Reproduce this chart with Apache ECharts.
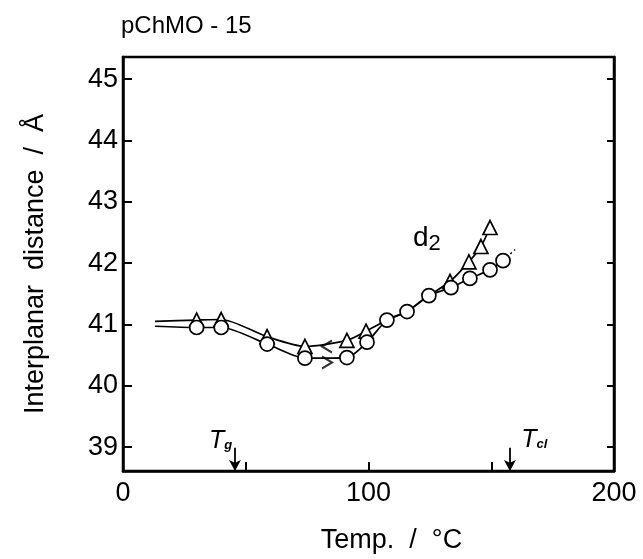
<!DOCTYPE html>
<html><head><meta charset="utf-8">
<script src="https://cdn.jsdelivr.net/npm/echarts@6/dist/echarts.min.js"></script>
<style>html,body{margin:0;padding:0;background:#fff}#c{width:643px;height:559px}</style>
</head><body><div id="c"></div>
<script>
// Heating run (circles)
const heatT = [13, 30, 40, 58.7, 74.1, 91.2, 99.4, 107.5, 115.7, 124.6, 133.6, 141.3, 149.5, 154.8];
const heatD = [40.97, 40.95, 40.95, 40.68, 40.45, 40.46, 40.71, 41.07, 41.21, 41.47, 41.60, 41.75, 41.89, 42.04];
const heatMarked = [false, true, true, true, true, true, true, true, true, true, true, true, true, true];
// dotted extension of heating curve
const extT = [154.8, 159.7];
const extD = [42.04, 42.22];
// Cooling run (triangles)
const coolT = [13, 30, 40, 58.7, 74.1, 91.2, 99.0, 107.5, 115.7, 124.6, 133.2, 140.9, 145.8, 149.5];
const coolD = [41.05, 41.07, 41.08, 40.80, 40.64, 40.74, 40.89, 41.07, 41.21, 41.47, 41.70, 42.02, 42.27, 42.58];
const coolMarked = [false, true, true, true, true, true, true, false, false, false, true, true, true, true];
// direction arrows on the curves
const arrowT = [83.1, 83.1];
const arrowD = [40.64, 40.38];
const arrowDir = ['left', 'right'];
// transition temperatures
const transT = [45.6, 157.6];
const transName = ['g', 'cl'];
const labelT = [39.8, 167.5];
const labelD = [39.10, 39.12];
// axis ticks
const xLabels = [0, 100, 200];
const xTicks = [50, 100, 150];
const yTicks = [39, 40, 41, 42, 43, 44, 45];

const FONT = 'Liberation Sans';
const chart = echarts.init(document.getElementById('c'));

function pts(T, D, marked, sym) {
  return T.map((t, i) => ({ value: [t, D[i]], symbol: marked[i] ? sym : 'none' }));
}
const textPoint = { symbol: 'circle', symbolSize: 0, itemStyle: { color: '#000' } };
const blackLabel = { show: true, position: 'inside', color: '#000', opacity: 1, textBorderWidth: 0, textBorderColor: 'transparent' };

const option = {
  animation: false,
  backgroundColor: '#fff',
  title: { text: 'pChMO - 15', left: 116, top: 9,
    textStyle: { fontFamily: FONT, fontSize: 24, fontWeight: 'normal', color: '#000' } },
  grid: { left: 123, right: 29, top: 57, bottom: 87, show: true, borderColor: '#000', borderWidth: 2.5 },
  xAxis: {
    type: 'value', min: 0, max: 200,
    name: 'Temp.  /  °C', nameLocation: 'middle', nameGap: 56,
    nameTextStyle: { fontFamily: FONT, fontSize: 27, color: '#000', padding: [0, 0, 0, 46] },
    axisLine: { show: true, lineStyle: { color: '#000', width: 2.5 } },
    axisTick: { show: true, inside: true, length: 9, customValues: xTicks, lineStyle: { color: '#000', width: 2 } },
    axisLabel: { customValues: xLabels, fontFamily: FONT, fontSize: 27, color: '#000', margin: 9 },
    splitLine: { show: false }
  },
  yAxis: [{
    type: 'value', min: 38.61, max: 45.36,
    name: 'Interplanar  distance  /  Å', nameLocation: 'middle', nameGap: 74,
    nameTextStyle: { fontFamily: FONT, fontSize: 27, color: '#000' },
    axisLine: { show: true, lineStyle: { color: '#000', width: 2.5 } },
    axisTick: { show: true, inside: true, length: 9, customValues: yTicks, lineStyle: { color: '#000', width: 2 } },
    axisLabel: { customValues: yTicks, fontFamily: FONT, fontSize: 27, color: '#000', margin: 5 },
    splitLine: { show: false }
  }, {
    type: 'value', min: 38.61, max: 45.36, position: 'right',
    axisLine: { show: true, lineStyle: { color: '#000', width: 2.5 } },
    axisTick: { show: true, inside: true, length: 7, customValues: yTicks, lineStyle: { color: '#000', width: 2 } },
    axisLabel: { show: false },
    splitLine: { show: false }
  }],
  series: [
    {
      type: 'line', z: 2, smooth: 0.25,
      data: pts(coolT, coolD, coolMarked, 'triangle'),
      symbolSize: 14,
      lineStyle: { color: '#000', width: 1.7 },
      itemStyle: { color: '#fff', borderColor: '#000', borderWidth: 1.7 }
    },
    {
      type: 'line', z: 3, smooth: 0.25,
      data: pts(heatT, heatD, heatMarked, 'circle'),
      symbolSize: 14,
      lineStyle: { color: '#000', width: 1.7 },
      itemStyle: { color: '#fff', borderColor: '#000', borderWidth: 1.7 }
    },
    {
      type: 'line', z: 2, showSymbol: false,
      data: extT.map((t, i) => [t, extD[i]]),
      lineStyle: { color: '#000', width: 1.4, type: [2, 3] }
    },
    {
      type: 'scatter', z: 4,
      data: arrowT.map((t, i) => ({
        value: [t, arrowD[i]],
        symbol: arrowDir[i] === 'right' ? 'path://M0,0L10,6L0,12' : 'path://M10,0L0,6L10,12'
      })),
      symbolSize: [10, 12],
      itemStyle: { color: 'rgba(255,255,255,0)', borderColor: '#000', borderWidth: 2 }
    },
    {
      type: 'line', z: 4, data: [], showSymbol: false,
      markLine: {
        silent: true, symbol: ['none', 'arrow'], symbolSize: [9, 11],
        lineStyle: { color: '#000', width: 1.8, type: 'solid' },
        label: { show: false },
        data: transT.map(t => [{ coord: [t, 38.99] }, { coord: [t, 38.61] }])
      }
    },
    Object.assign({
      type: 'scatter', z: 5,
      data: labelT.map((t, i) => ({ value: [t, labelD[i]], sub: transName[i] })),
      label: Object.assign({}, blackLabel, {
        formatter: p => '{t|T}{s|' + p.data.sub + '}',
        rich: {
          t: { fontFamily: FONT, fontSize: 25, fontStyle: 'italic', color: '#000' },
          s: { fontFamily: FONT, fontSize: 13, fontStyle: 'italic', fontWeight: 'bold', color: '#000', padding: [9, 0, 0, 0] }
        }
      })
    }, textPoint),
    Object.assign({
      type: 'scatter', z: 5,
      data: [[123.8, 42.41]],
      label: Object.assign({}, blackLabel, {
        formatter: '{d|d}{s|2}',
        rich: {
          d: { fontFamily: FONT, fontSize: 28, color: '#000' },
          s: { fontFamily: FONT, fontSize: 22, color: '#000', padding: [12, 0, 0, 0] }
        }
      })
    }, textPoint)
  ]
};
chart.setOption(option);
</script>
</body></html>
